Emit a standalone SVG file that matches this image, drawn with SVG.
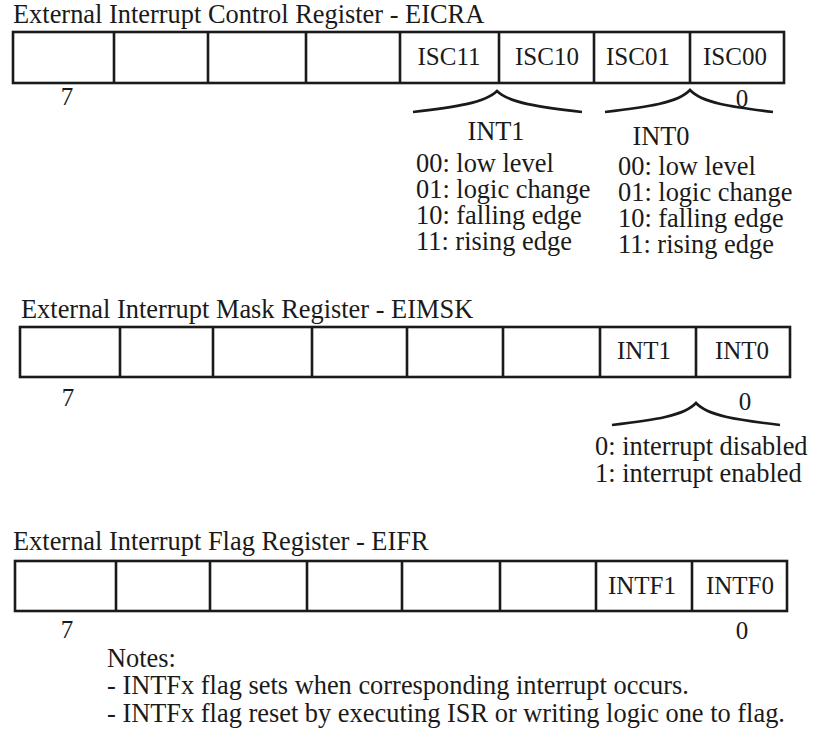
<svg xmlns="http://www.w3.org/2000/svg" width="813" height="734" viewBox="0 0 813 734">
  <style>
    text { font-family: "Liberation Serif", "Times New Roman", serif; fill: #1a1a1a; }
    .title { font-size: 26.4px; }
    .bit { font-size: 25px; text-anchor: middle; }
    .idx { font-size: 25px; text-anchor: middle; }
    .desc { font-size: 26.4px; }
    .reg { fill: none; stroke: #1a1a1a; stroke-width: 2.6; }
    .div { stroke: #1a1a1a; stroke-width: 2.6; }
    .brace { fill: none; stroke: #1a1a1a; stroke-width: 2.6; stroke-linecap: butt; }
  </style>

  <rect width="813" height="734" fill="#ffffff"/>

  <!-- EICRA: external interrupt control register -->
  <g id="eicra">
    <text class="title" x="13" y="23">External Interrupt Control Register - EICRA</text>
    <rect class="reg" x="13" y="32" width="771" height="51"/>
    <path class="div" d="M114,32V83M208,32V83M306,32V83M400,32V83M499,32V83M594,32V83M690,32V83"/>
    <text class="bit" x="449" y="65">ISC11</text>
    <text class="bit" x="547" y="65">ISC10</text>
    <text class="bit" x="638" y="65">ISC01</text>
    <text class="bit" x="735" y="65">ISC00</text>
    <text class="idx" x="67" y="105">7</text>
    <text class="idx" x="742" y="107">0</text>
  </g>

  <g id="eicra-int1">
    <text class="desc" x="496" y="140" text-anchor="middle">INT1</text>
    <text class="desc" x="416" y="172">00: low level</text>
    <text class="desc" x="416" y="198">01: logic change</text>
    <text class="desc" x="416" y="224">10: falling edge</text>
    <text class="desc" x="416" y="250">11: rising edge</text>
  </g>

  <g id="eicra-int0">
    <text class="desc" x="661" y="145" text-anchor="middle">INT0</text>
    <text class="desc" x="618" y="175">00: low level</text>
    <text class="desc" x="618" y="201">01: logic change</text>
    <text class="desc" x="618" y="227">10: falling edge</text>
    <text class="desc" x="618" y="253">11: rising edge</text>
  </g>

  <!-- EIMSK: external interrupt mask register -->
  <g id="eimsk">
    <text class="title" x="21" y="318">External Interrupt Mask Register - EIMSK</text>
    <rect class="reg" x="20" y="327" width="770" height="50"/>
    <path class="div" d="M120,327V377M213,327V377M312,327V377M407,327V377M503,327V377M600,327V377M696,327V377"/>
    <text class="bit" x="644" y="359">INT1</text>
    <text class="bit" x="742" y="359">INT0</text>
    <text class="idx" x="68" y="406">7</text>
    <text class="idx" x="745" y="410">0</text>
  </g>

  <g id="eimsk-desc">
    <text class="desc" x="595" y="455">0: interrupt disabled</text>
    <text class="desc" x="595" y="482">1: interrupt enabled</text>
  </g>

  <!-- EIFR: external interrupt flag register -->
  <g id="eifr">
    <text class="title" x="13" y="550">External Interrupt Flag Register - EIFR</text>
    <rect class="reg" x="15" y="561" width="772" height="50"/>
    <path class="div" d="M116,561V611M210,561V611M307,561V611M402,561V611M500,561V611M596,561V611M692,561V611"/>
    <text class="bit" x="642" y="594">INTF1</text>
    <text class="bit" x="740" y="594">INTF0</text>
    <text class="idx" x="67" y="638">7</text>
    <text class="idx" x="742" y="639">0</text>
  </g>

  <g id="notes">
    <text class="desc" x="107" y="667">Notes:</text>
    <text class="desc" x="107" y="694">- INTFx flag sets when corresponding interrupt occurs.</text>
    <text class="desc" x="107" y="722">- INTFx flag reset by executing ISR or writing logic one to flag.</text>
  </g>

  <!-- braces grouping bit fields -->
  <g id="connectors">
    <path class="brace" d="M413,112 C455,107 485,103 497,91 C509,103 539,107 582,112"/>
    <path class="brace" d="M605,112 C647,107 678,103 690,90 C702,103 732,107 773,112"/>
    <path class="brace" d="M612,425 C654,420 684,416 696,403 C708,416 738,420 780,425"/>
  </g>
</svg>
